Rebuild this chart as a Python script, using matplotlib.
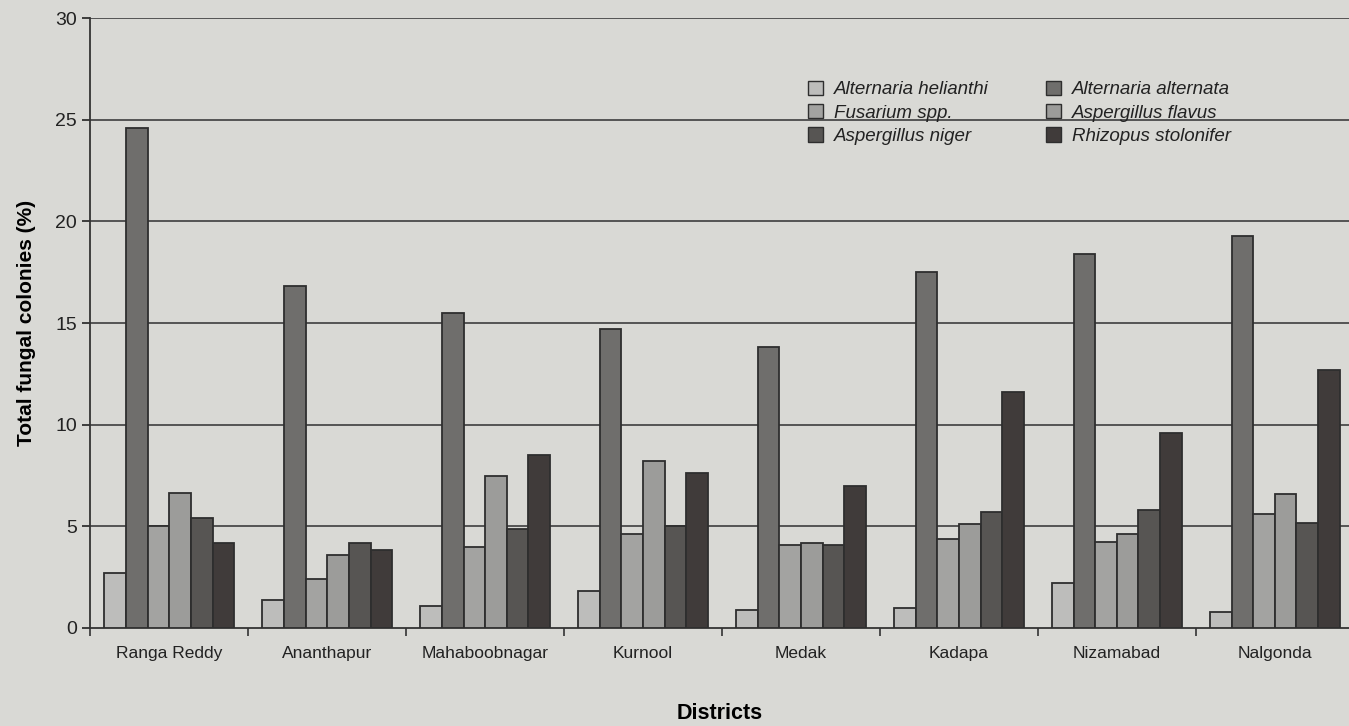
import matplotlib
matplotlib.use("Agg")
import matplotlib.pyplot as plt
import numpy as np
from matplotlib.patches import Patch

plt.rcParams['font.family'] = ['Liberation Sans', 'DejaVu Sans']

districts = ["Ranga Reddy", "Ananthapur", "Mahaboobnagar", "Kurnool",
             "Medak", "Kadapa", "Nizamabad", "Nalgonda"]
series_names = ["Alternaria helianthi", "Alternaria alternata", "Fusarium spp.",
                "Aspergillus flavus", "Aspergillus niger", "Rhizopus stolonifer"]
a_helianthi = [2.7, 1.4, 1.1, 1.8, 0.9, 1.0, 2.2, 0.8]
a_alternata = [24.6, 16.8, 15.5, 14.7, 13.8, 17.5, 18.4, 19.3]
fusarium    = [5.0, 2.4, 4.0, 4.6, 4.1, 4.4, 4.25, 5.6]
a_flavus    = [6.65, 3.6, 7.5, 8.2, 4.2, 5.1, 4.6, 6.6]
a_niger     = [5.4, 4.2, 4.85, 5.0, 4.1, 5.7, 5.8, 5.15]
rhizopus    = [4.2, 3.85, 8.5, 7.6, 7.0, 11.6, 9.6, 12.7]
yticks = [0, 5, 10, 15, 20, 25, 30]

series = [a_helianthi, a_alternata, fusarium, a_flavus, a_niger, rhizopus]
colors = ["#bdbdbb", "#6f6e6c", "#a3a3a1", "#9c9c9a", "#575553", "#403b3a"]
bg = "#d9d9d5"

fig = plt.figure(figsize=(13.49, 7.26), dpi=100, facecolor=bg)
ax = fig.add_axes([0.067, 0.135, 0.933, 0.84], facecolor=bg)

x = np.arange(len(districts))
w = 0.137
for k, (vals, c) in enumerate(zip(series, colors)):
    ax.bar(x + (k - 2.5) * w, vals, width=w, color=c, edgecolor="#2e2e2e",
           linewidth=1.3, zorder=3, label=series_names[k])

ax.set_ylim(0, 30)
ax.set_xlim(-0.5, 7.47)
ax.set_yticks(yticks)
ax.tick_params(axis="y", labelsize=14, length=6, width=1.2, colors="#222222", direction="out")
ax.set_xticks(x)
ax.set_xticklabels(districts, fontsize=12.5)
ax.tick_params(axis="x", which="major", length=0, pad=13, colors="#222222")
ax.set_xticks(np.arange(-0.5, 7.0, 1.0), minor=True)
ax.tick_params(axis="x", which="minor", length=6, width=1.2, direction="out", color="#333333")

for y in yticks[1:]:
    ax.axhline(y, color="#4a4a4a", linewidth=1.3, zorder=1)

for s in ["top", "right"]:
    ax.spines[s].set_visible(False)
for s in ["left", "bottom"]:
    ax.spines[s].set_color("#333333")
    ax.spines[s].set_linewidth(1.3)

ax.set_ylabel("Total fungal colonies (%)", fontsize=15, fontweight="bold", labelpad=14)
ax.set_xlabel("Districts", fontsize=15.5, fontweight="bold", labelpad=30)

order = [0, 2, 4, 1, 3, 5]
handles = [Patch(facecolor=colors[i], edgecolor="#2e2e2e", linewidth=1.0) for i in order]
labels = [series_names[i] for i in order]
leg = ax.legend(handles, labels, loc="upper left", bbox_to_anchor=(0.557, 0.925),
                ncol=2, frameon=False, fontsize=13.5, handlelength=0.8, handleheight=0.8,
                handletextpad=0.55, columnspacing=3.1, labelspacing=0.3)
for t in leg.get_texts():
    t.set_fontstyle("italic")
    t.set_color("#222222")

fig.savefig("out.png", dpi=100, facecolor=bg)
